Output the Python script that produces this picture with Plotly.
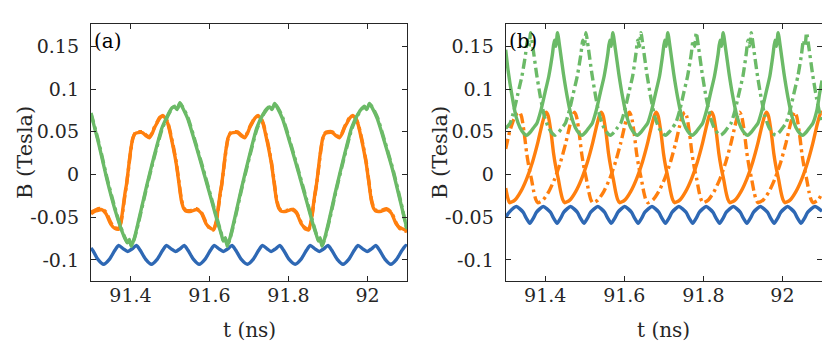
import plotly.graph_objects as go

W, H = 830, 342

# ---------------- Panel (a) data ----------------
a_blue_t = [91.300, 91.305, 91.317, 91.332, 91.347, 91.360, 91.370, 91.382, 91.393, 91.404, 91.415, 91.425, 91.438,
            91.453, 91.468, 91.481, 91.491, 91.503, 91.514, 91.525, 91.536, 91.546, 91.559,
            91.574, 91.589, 91.602, 91.612, 91.624, 91.635, 91.646, 91.657, 91.667, 91.680,
            91.696, 91.711, 91.724, 91.734, 91.746, 91.756, 91.767, 91.778, 91.788, 91.801,
            91.817, 91.832, 91.845, 91.855, 91.867, 91.878, 91.889, 91.900, 91.910, 91.923,
            91.938, 91.953, 91.966, 91.976, 91.988, 91.999, 92.010, 92.021, 92.031, 92.044,
            92.059, 92.074, 92.087, 92.097, 92.100]
a_blue_B = [-0.086, -0.089, -0.099, -0.105, -0.099, -0.089, -0.083, -0.087, -0.090, -0.087, -0.083, -0.089, -0.099,
            -0.105, -0.099, -0.089, -0.083, -0.087, -0.090, -0.087, -0.083, -0.089, -0.099,
            -0.105, -0.099, -0.089, -0.083, -0.087, -0.090, -0.087, -0.083, -0.089, -0.099,
            -0.105, -0.099, -0.089, -0.083, -0.087, -0.090, -0.087, -0.083, -0.089, -0.099,
            -0.105, -0.099, -0.089, -0.083, -0.087, -0.090, -0.087, -0.083, -0.089, -0.099,
            -0.105, -0.099, -0.089, -0.083, -0.087, -0.090, -0.087, -0.083, -0.089, -0.099,
            -0.105, -0.099, -0.089, -0.083, -0.084]

a_orange_t = [91.300, 91.310, 91.318, 91.327, 91.338, 91.350, 91.360, 91.370, 91.376, 91.381, 91.386, 91.390,
              91.394, 91.398, 91.402, 91.406, 91.412, 91.419, 91.430, 91.440, 91.448, 91.455, 91.461, 91.468,
              91.474, 91.482, 91.488, 91.495, 91.502, 91.508, 91.516, 91.522, 91.529, 91.535, 91.541, 91.554,
              91.567, 91.579, 91.592, 91.600, 91.610,
              91.617, 91.622, 91.627, 91.631, 91.635, 91.639, 91.643, 91.647, 91.653, 91.660, 91.671, 91.681,
              91.689, 91.696, 91.702, 91.709, 91.715, 91.723, 91.729, 91.736, 91.743, 91.749, 91.757, 91.763,
              91.770, 91.776, 91.782, 91.795, 91.808, 91.820, 91.833, 91.841, 91.851,
              91.857, 91.862, 91.867, 91.871, 91.875, 91.879, 91.883, 91.887, 91.893, 91.900, 91.911, 91.921,
              91.929, 91.936, 91.942, 91.949, 91.955, 91.963, 91.969, 91.976, 91.983, 91.989, 91.997, 92.003,
              92.010, 92.016, 92.022, 92.035, 92.048, 92.060, 92.073, 92.081, 92.091, 92.100]
a_orange_solid_B = [-0.046, -0.043, -0.042, -0.041, -0.046, -0.058, -0.063, -0.064, -0.055, -0.039, -0.022, -0.011,
                    0.004, 0.020, 0.033, 0.043, 0.048, 0.049, 0.049, 0.045, 0.043, 0.048, 0.055, 0.061,
                    0.066, 0.069, 0.066, 0.059, 0.045, 0.032, 0.012, -0.008, -0.031, -0.040, -0.043, -0.043,
                    -0.041, -0.045, -0.058, -0.062, -0.064,
                    -0.055, -0.039, -0.022, -0.011, 0.004, 0.020, 0.033, 0.043, 0.048, 0.049, 0.049, 0.045,
                    0.043, 0.048, 0.055, 0.061, 0.066, 0.069, 0.066, 0.059, 0.045, 0.032, 0.012, -0.008,
                    -0.031, -0.040, -0.043, -0.043, -0.041, -0.045, -0.058, -0.062, -0.064,
                    -0.055, -0.039, -0.022, -0.011, 0.004, 0.020, 0.033, 0.043, 0.048, 0.049, 0.049, 0.045,
                    0.043, 0.048, 0.055, 0.061, 0.066, 0.069, 0.066, 0.059, 0.045, 0.032, 0.012, -0.008,
                    -0.031, -0.040, -0.043, -0.043, -0.041, -0.045, -0.058, -0.062, -0.064, -0.066]
a_orange_dash_B = [-0.044, -0.042, -0.040, -0.040, -0.044, -0.056, -0.062, -0.063, -0.056, -0.041, -0.024, -0.012,
                   0.003, 0.018, 0.032, 0.042, 0.049, 0.050, 0.050, 0.046, 0.044, 0.049, 0.056, 0.062,
                   0.067, 0.068, 0.067, 0.060, 0.047, 0.034, 0.014, -0.006, -0.029, -0.039, -0.042, -0.042,
                   -0.040, -0.044, -0.057, -0.063, -0.065,
                   -0.056, -0.041, -0.024, -0.012, 0.003, 0.018, 0.032, 0.042, 0.049, 0.050, 0.050, 0.046,
                   0.044, 0.049, 0.056, 0.062, 0.067, 0.068, 0.067, 0.060, 0.047, 0.034, 0.014, -0.006,
                   -0.029, -0.039, -0.042, -0.042, -0.040, -0.044, -0.057, -0.063, -0.065,
                   -0.056, -0.041, -0.024, -0.012, 0.003, 0.018, 0.032, 0.042, 0.049, 0.050, 0.050, 0.046,
                   0.044, 0.049, 0.056, 0.062, 0.067, 0.068, 0.067, 0.060, 0.047, 0.034, 0.014, -0.006,
                   -0.029, -0.039, -0.042, -0.042, -0.040, -0.044, -0.057, -0.063, -0.065, -0.067]

a_green_t = [91.300, 91.320, 91.340, 91.360, 91.375, 91.385, 91.392, 91.397, 91.402, 91.410, 91.420, 91.440,
             91.460, 91.480, 91.495, 91.505, 91.512, 91.518, 91.525, 91.532, 91.545, 91.565, 91.585, 91.605,
             91.620, 91.630, 91.635, 91.640, 91.645, 91.652, 91.662, 91.680, 91.700, 91.720, 91.735, 91.745,
             91.752, 91.758, 91.765, 91.772, 91.785, 91.805, 91.825, 91.845, 91.860, 91.870, 91.876, 91.880,
             91.885, 91.892, 91.902, 91.920, 91.940, 91.960, 91.975, 91.985, 91.992, 91.998, 92.005, 92.012,
             92.025, 92.045, 92.065, 92.085, 92.100]
a_green_solid_B = [0.071, 0.035, -0.005, -0.040, -0.062, -0.074, -0.080, -0.076, -0.084, -0.074, -0.055, -0.015,
                   0.022, 0.055, 0.070, 0.078, 0.079, 0.076, 0.084, 0.078, 0.065, 0.035, 0.003, -0.030,
                   -0.055, -0.070, -0.078, -0.074, -0.084, -0.074, -0.055, -0.018, 0.020, 0.055, 0.070, 0.077,
                   0.079, 0.076, 0.083, 0.078, 0.065, 0.035, 0.003, -0.030, -0.055, -0.070, -0.078, -0.074,
                   -0.084, -0.074, -0.055, -0.018, 0.020, 0.055, 0.070, 0.077, 0.079, 0.076, 0.083, 0.078,
                   0.065, 0.035, 0.003, -0.035, -0.064]
a_green_dash_B = [0.072, 0.037, -0.003, -0.038, -0.061, -0.073, -0.079, -0.077, -0.083, -0.075, -0.057, -0.017,
                  0.020, 0.053, 0.069, 0.077, 0.080, 0.077, 0.083, 0.079, 0.067, 0.037, 0.005, -0.028,
                  -0.053, -0.069, -0.077, -0.075, -0.083, -0.075, -0.057, -0.020, 0.018, 0.053, 0.069, 0.076,
                  0.080, 0.077, 0.082, 0.079, 0.067, 0.037, 0.005, -0.028, -0.053, -0.069, -0.077, -0.075,
                  -0.083, -0.075, -0.057, -0.020, 0.018, 0.053, 0.069, 0.076, 0.080, 0.077, 0.082, 0.079,
                  0.067, 0.037, 0.005, -0.033, -0.066]

# ---------------- Panel (b) data ----------------
b_blue_t = [91.300, 91.309, 91.327, 91.344, 91.352, 91.361, 91.370, 91.378, 91.395, 91.413, 91.421, 91.430,
            91.439, 91.447, 91.464, 91.481, 91.489, 91.498, 91.507, 91.515, 91.533, 91.550, 91.558, 91.567,
            91.576, 91.584, 91.601, 91.618, 91.626, 91.635, 91.644, 91.652, 91.670, 91.687, 91.695, 91.704,
            91.713, 91.721, 91.738, 91.756, 91.764, 91.773, 91.782, 91.790, 91.807, 91.824, 91.832, 91.841,
            91.850, 91.858, 91.876, 91.893, 91.901, 91.910, 91.919, 91.927, 91.944, 91.962, 91.970, 91.979,
            91.988, 91.996, 92.013, 92.030, 92.038, 92.047, 92.056, 92.064, 92.082, 92.100]
b_blue_B = [-0.050, -0.044, -0.0375, -0.044, -0.051, -0.057, -0.051, -0.044, -0.0375, -0.044, -0.051, -0.057,
            -0.051, -0.044, -0.0375, -0.044, -0.051, -0.057, -0.051, -0.044, -0.0375, -0.044, -0.051, -0.057,
            -0.051, -0.044, -0.0375, -0.044, -0.051, -0.057, -0.051, -0.044, -0.0375, -0.044, -0.051, -0.057,
            -0.051, -0.044, -0.0375, -0.044, -0.051, -0.057, -0.051, -0.044, -0.0375, -0.044, -0.051, -0.057,
            -0.051, -0.044, -0.0375, -0.044, -0.051, -0.057, -0.051, -0.044, -0.0375, -0.044, -0.051, -0.057,
            -0.051, -0.044, -0.0375, -0.044, -0.051, -0.057, -0.051, -0.044, -0.0375, -0.043]

b_orange_solid_t = [91.300, 91.305, 91.310, 91.323, 91.338, 91.353, 91.368, 91.381, 91.391, 91.398, 91.403, 91.408,
                    91.415, 91.421, 91.427, 91.433, 91.439, 91.444, 91.449,
                    91.462, 91.477, 91.492, 91.507, 91.520, 91.530, 91.537, 91.542, 91.547, 91.554, 91.560,
                    91.566, 91.572, 91.578, 91.583, 91.588,
                    91.601, 91.616, 91.631, 91.646, 91.659, 91.669, 91.676, 91.681, 91.686, 91.693, 91.699,
                    91.705, 91.711, 91.717, 91.722, 91.727,
                    91.740, 91.755, 91.770, 91.785, 91.798, 91.808, 91.815, 91.821, 91.826, 91.833, 91.839,
                    91.845, 91.851, 91.857, 91.862, 91.867,
                    91.880, 91.895, 91.910, 91.925, 91.938, 91.948, 91.955, 91.960, 91.965, 91.972, 91.978,
                    91.984, 91.990, 91.996, 92.001, 92.006,
                    92.019, 92.034, 92.049, 92.064, 92.077, 92.087, 92.094, 92.099, 92.100]
b_orange_solid_B = [-0.016, -0.027, -0.033, -0.030, -0.020, -0.005, 0.015, 0.037, 0.057, 0.069, 0.073, 0.068,
                    0.048, 0.025, 0.008, -0.005, -0.020, -0.029, -0.033,
                    -0.030, -0.020, -0.005, 0.015, 0.037, 0.057, 0.069, 0.073, 0.068, 0.048, 0.025,
                    0.008, -0.005, -0.020, -0.029, -0.033,
                    -0.030, -0.020, -0.005, 0.015, 0.037, 0.057, 0.069, 0.073, 0.068, 0.048, 0.025,
                    0.008, -0.005, -0.020, -0.029, -0.033,
                    -0.030, -0.020, -0.005, 0.015, 0.037, 0.057, 0.069, 0.073, 0.068, 0.048, 0.025,
                    0.008, -0.005, -0.020, -0.029, -0.033,
                    -0.030, -0.020, -0.005, 0.015, 0.037, 0.057, 0.069, 0.073, 0.068, 0.048, 0.025,
                    0.008, -0.005, -0.020, -0.029, -0.033,
                    -0.030, -0.020, -0.005, 0.015, 0.037, 0.057, 0.069, 0.073, 0.073]

b_orange_dash_t = [91.300, 91.310, 91.320, 91.328, 91.335, 91.340, 91.347, 91.353, 91.359, 91.365, 91.371, 91.376,
                   91.381,
                   91.394, 91.409, 91.424, 91.439, 91.452, 91.462, 91.469, 91.474, 91.479, 91.486, 91.492,
                   91.498, 91.504, 91.510, 91.515, 91.520,
                   91.533, 91.548, 91.563, 91.578, 91.591, 91.601, 91.608, 91.613, 91.618, 91.625, 91.631,
                   91.637, 91.643, 91.649, 91.654, 91.659,
                   91.672, 91.687, 91.702, 91.717, 91.730, 91.740, 91.747, 91.753, 91.758, 91.765, 91.771,
                   91.777, 91.783, 91.789, 91.794, 91.799,
                   91.812, 91.827, 91.842, 91.857, 91.870, 91.880, 91.887, 91.892, 91.897, 91.904, 91.910,
                   91.916, 91.922, 91.928, 91.933, 91.938,
                   91.951, 91.966, 91.981, 91.996, 92.009, 92.019, 92.026, 92.031, 92.036, 92.043, 92.049,
                   92.055, 92.061, 92.067, 92.072, 92.077,
                   92.090, 92.100]
b_orange_dash_B = [0.030, 0.050, 0.064, 0.071, 0.073, 0.068, 0.048, 0.025, 0.008, -0.005, -0.020, -0.029,
                   -0.033,
                   -0.030, -0.020, -0.005, 0.015, 0.037, 0.057, 0.069, 0.073, 0.068, 0.048, 0.025,
                   0.008, -0.005, -0.020, -0.029, -0.033,
                   -0.030, -0.020, -0.005, 0.015, 0.037, 0.057, 0.069, 0.073, 0.068, 0.048, 0.025,
                   0.008, -0.005, -0.020, -0.029, -0.033,
                   -0.030, -0.020, -0.005, 0.015, 0.037, 0.057, 0.069, 0.073, 0.068, 0.048, 0.025,
                   0.008, -0.005, -0.020, -0.029, -0.033,
                   -0.030, -0.020, -0.005, 0.015, 0.037, 0.057, 0.069, 0.073, 0.068, 0.048, 0.025,
                   0.008, -0.005, -0.020, -0.029, -0.033,
                   -0.030, -0.020, -0.005, 0.015, 0.037, 0.057, 0.069, 0.073, 0.068, 0.048, 0.025,
                   0.008, -0.005, -0.020, -0.029, -0.033,
                   -0.030, -0.022]

b_green_solid_t = [91.300, 91.306, 91.316, 91.326, 91.336, 91.346, 91.353, 91.363, 91.371, 91.379, 91.389, 91.399,
                   91.409, 91.418, 91.423, 91.427, 91.431, 91.437, 91.446, 91.456, 91.466, 91.476, 91.486, 91.493,
                   91.503, 91.511, 91.519, 91.529, 91.539, 91.549, 91.558, 91.563, 91.567, 91.571, 91.577, 91.586,
                   91.596, 91.606, 91.616, 91.626, 91.633, 91.643, 91.651, 91.659, 91.669, 91.679, 91.689, 91.697,
                   91.702, 91.706, 91.710, 91.716, 91.725, 91.735, 91.745, 91.755, 91.765, 91.772, 91.782, 91.790,
                   91.798, 91.808, 91.818, 91.828, 91.837, 91.842, 91.846, 91.850, 91.856, 91.865, 91.875, 91.885,
                   91.895, 91.905, 91.912, 91.922, 91.930, 91.938, 91.948, 91.958, 91.968, 91.976, 91.981, 91.985,
                   91.989, 91.995, 92.004, 92.014, 92.024, 92.034, 92.044, 92.051, 92.061, 92.069, 92.077, 92.087,
                   92.094, 92.100]
b_green_solid_B = [0.146, 0.122, 0.092, 0.068, 0.055, 0.048, 0.046, 0.050, 0.055, 0.060, 0.075, 0.095,
                   0.115, 0.140, 0.157, 0.150, 0.166, 0.148, 0.118, 0.090, 0.068, 0.055, 0.048, 0.046,
                   0.050, 0.055, 0.060, 0.075, 0.095, 0.115, 0.140, 0.157, 0.150, 0.166, 0.148, 0.118,
                   0.090, 0.068, 0.055, 0.048, 0.046, 0.050, 0.055, 0.060, 0.075, 0.095, 0.115, 0.140,
                   0.157, 0.150, 0.166, 0.148, 0.118, 0.090, 0.068, 0.055, 0.048, 0.046, 0.050, 0.055,
                   0.060, 0.075, 0.095, 0.115, 0.140, 0.157, 0.150, 0.166, 0.148, 0.118, 0.090, 0.068,
                   0.055, 0.048, 0.046, 0.050, 0.055, 0.060, 0.075, 0.095, 0.115, 0.140, 0.157, 0.150,
                   0.166, 0.148, 0.118, 0.090, 0.068, 0.055, 0.048, 0.046, 0.050, 0.055, 0.060, 0.075,
                   0.095, 0.110]

b_green_dash_t = [91.300, 91.311, 91.321, 91.331, 91.341, 91.350, 91.355, 91.359, 91.363, 91.369, 91.378, 91.388,
                  91.398, 91.408, 91.418, 91.425, 91.435, 91.443, 91.451, 91.461, 91.471, 91.481, 91.490, 91.495,
                  91.499, 91.503, 91.509, 91.518, 91.528, 91.538, 91.548, 91.558, 91.565, 91.575, 91.583, 91.591,
                  91.601, 91.611, 91.621, 91.629, 91.634, 91.638, 91.642, 91.648, 91.657, 91.667, 91.677, 91.687,
                  91.697, 91.704, 91.714, 91.722, 91.730, 91.740, 91.750, 91.760, 91.769, 91.774, 91.778, 91.782,
                  91.788, 91.797, 91.807, 91.817, 91.827, 91.837, 91.844, 91.854, 91.862, 91.870, 91.880, 91.890,
                  91.900, 91.908, 91.913, 91.917, 91.921, 91.927, 91.936, 91.946, 91.956, 91.966, 91.976, 91.983,
                  91.993, 92.001, 92.009, 92.019, 92.029, 92.039, 92.048, 92.053, 92.057, 92.061, 92.067, 92.076,
                  92.086, 92.096, 92.100]
b_green_dash_B = [0.054, 0.060, 0.075, 0.095, 0.115, 0.140, 0.157, 0.150, 0.166, 0.148, 0.118, 0.090,
                  0.068, 0.055, 0.048, 0.046, 0.050, 0.055, 0.060, 0.075, 0.095, 0.115, 0.140, 0.157,
                  0.150, 0.166, 0.148, 0.118, 0.090, 0.068, 0.055, 0.048, 0.046, 0.050, 0.055, 0.060,
                  0.075, 0.095, 0.115, 0.140, 0.157, 0.150, 0.166, 0.148, 0.118, 0.090, 0.068, 0.055,
                  0.048, 0.046, 0.050, 0.055, 0.060, 0.075, 0.095, 0.115, 0.140, 0.157, 0.150, 0.166,
                  0.148, 0.118, 0.090, 0.068, 0.055, 0.048, 0.046, 0.050, 0.055, 0.060, 0.075, 0.095,
                  0.115, 0.140, 0.157, 0.150, 0.166, 0.148, 0.118, 0.090, 0.068, 0.055, 0.048, 0.046,
                  0.050, 0.055, 0.060, 0.075, 0.095, 0.115, 0.140, 0.157, 0.150, 0.166, 0.148, 0.118,
                  0.090, 0.068, 0.062]

# ---------------- Axis ticks / labels ----------------
x_tick_vals = [91.4, 91.6, 91.8, 92.0]
x_tick_text = ["91.4", "91.6", "91.8", "92"]
y_tick_vals = [-0.1, -0.05, 0, 0.05, 0.1, 0.15]
y_tick_text = ["-0.1", "-0.05", "0", "0.05", "0.1", "0.15"]
x_range = [91.3, 92.1]
y_range = [-0.1246, 0.1761]
panel_labels = ["(a)", "(b)"]
x_title = "t (ns)"
y_title = "B (Tesla)"

BLUE = "#2E68B4"
ORANGE = "#FF7F0E"
GREEN = "#6BBA67"
DASHDOT = "10px,4px,3px,4px"
FONT = "DejaVu Serif"
AXC = "#262626"
LW = 3.4

fig = go.Figure()


def add(x, y, color, dash, xa, ya):
    fig.add_trace(go.Scatter(
        x=x, y=y, mode="lines", xaxis=xa, yaxis=ya, showlegend=False, hoverinfo="skip",
        line=dict(color=color, width=LW, dash=dash, shape="spline", smoothing=0.6)))


add(a_blue_t, a_blue_B, BLUE, "solid", "x", "y")
add(a_orange_t, a_orange_solid_B, ORANGE, "solid", "x", "y")
add(a_orange_t, a_orange_dash_B, ORANGE, DASHDOT, "x", "y")
add(a_green_t, a_green_solid_B, GREEN, "solid", "x", "y")
add(a_green_t, a_green_dash_B, GREEN, DASHDOT, "x", "y")

add(b_blue_t, b_blue_B, BLUE, "solid", "x2", "y2")
add(b_orange_solid_t, b_orange_solid_B, ORANGE, "solid", "x2", "y2")
add(b_orange_dash_t, b_orange_dash_B, ORANGE, DASHDOT, "x2", "y2")
add(b_green_solid_t, b_green_solid_B, GREEN, "solid", "x2", "y2")
add(b_green_dash_t, b_green_dash_B, GREEN, DASHDOT, "x2", "y2")

ax_common = dict(showline=True, linecolor=AXC, linewidth=1.3, mirror="ticks", ticks="inside",
                 ticklen=5, tickwidth=1.2, tickcolor=AXC, showgrid=False, zeroline=False,
                 tickfont=dict(family=FONT, size=19, color=AXC))

ydom = [1 - 273 / H, 1 - 16 / H]
xa_dom = [83 / W, 399 / W]
xb_dom = [497.7 / W, 814 / W]

fig.update_layout(
    width=W, height=H, margin=dict(l=0, r=0, t=0, b=0),
    font=dict(family=FONT),
    paper_bgcolor="white", plot_bgcolor="white",
    xaxis=dict(domain=xa_dom, range=x_range, tickvals=x_tick_vals, ticktext=x_tick_text,
               anchor="y", ticklabelstandoff=-3, **ax_common),
    yaxis=dict(domain=ydom, range=y_range, tickvals=y_tick_vals, ticktext=y_tick_text,
               anchor="x", ticklabelstandoff=7, **ax_common),
    xaxis2=dict(domain=xb_dom, range=x_range, tickvals=x_tick_vals, ticktext=x_tick_text,
                anchor="y2", ticklabelstandoff=-3, **ax_common),
    yaxis2=dict(domain=ydom, range=y_range, tickvals=y_tick_vals, ticktext=y_tick_text,
                anchor="x2", ticklabelstandoff=7, **ax_common),
)

ann = []
for lab, x0 in zip(panel_labels, [84, 499]):
    ann.append(dict(text=lab, xref="paper", yref="paper", x=x0 / W, y=1 - 33 / H,
                    xanchor="left", yanchor="middle", showarrow=False,
                    font=dict(family=FONT, size=20, color="black")))
for xc in [(83 + 399) / 2, (497.7 + 814) / 2]:
    ann.append(dict(text=x_title, xref="paper", yref="paper", x=xc / W, y=1 - 322 / H,
                    xanchor="center", yanchor="middle", showarrow=False, borderpad=0,
                    font=dict(family=FONT, size=20, color=AXC)))
for xc in [17, 432]:
    ann.append(dict(text=y_title, xref="paper", yref="paper", x=xc / W, y=1 - 145 / H,
                    xanchor="center", yanchor="middle", showarrow=False, textangle=-90,
                    font=dict(family=FONT, size=21, color=AXC)))
fig.update_layout(annotations=ann)

fig.write_html("out.html")
